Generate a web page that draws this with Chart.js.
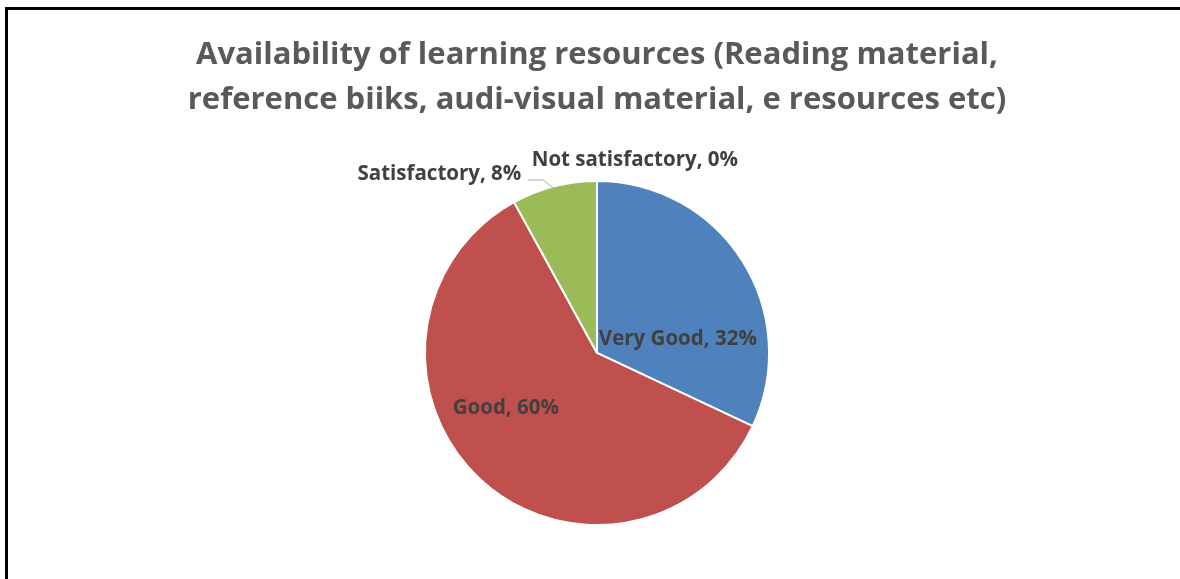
<!DOCTYPE html>
<html>
<head>
<meta charset="utf-8">
<script src="https://cdn.jsdelivr.net/npm/chart.js@4"></script>
<style>
  html, body { margin: 0; padding: 0; background: #fff; }
  body { width: 1180px; height: 579px; position: relative; overflow: hidden; }
  #frame { position: absolute; left: 5px; top: 7px; width: 1173px; height: 580px;
           border-left: 3px solid #000; border-top: 3px solid #000; }
  #chart { position: absolute; left: 0; top: 0; }
</style>
</head>
<body>
<div id="frame"></div>
<canvas id="chart" width="1180" height="579"></canvas>
<script>
// chart data
const categories = ['Very Good', 'Good', 'Satisfactory', 'Not satisfactory'];
const shares = [32, 60, 8, 0];
const sliceColors = ['#4F81BD', '#C0504D', '#9BBB59', '#8064A2'];
const titleLines = ['Availability of learning resources (Reading material,',
                    'reference biiks, audi-visual material, e resources etc)'];

// where each data label sits, as fractions of the radius from the pie centre
const labelSpots = [
    { dx: 0.47, dy: -0.08, align: 'center' },
    { dx: -0.53, dy: 0.32, align: 'center' },
    { dx: -0.44, dy: -1.04, align: 'right', leader: true },
    { dx: 0.22, dy: -1.12, align: 'center' }
];

const labelFont = 'bold 20.5px "Open Sans"';

// draws "Name, xx%" labels next to the slices
const pieLabels = {
    id: 'pieLabels',
    afterDatasetsDraw(chart) {
        const ctx = chart.ctx;
        const meta = chart.getDatasetMeta(0);
        const arc = meta.data[0];
        const cx = arc.x, cy = arc.y, r = arc.outerRadius;
        ctx.save();
        ctx.font = labelFont;
        ctx.fillStyle = '#404040';
        ctx.textBaseline = 'middle';
        categories.forEach((name, i) => {
            const spot = labelSpots[i];
            const x = cx + spot.dx * r;
            const y = cy + spot.dy * r;
            ctx.textAlign = spot.align;
            ctx.fillText(name + ', ' + shares[i] + '%', x, y);
            if (spot.leader) {
                // small grey leader line down to the green slice
                const el = meta.data[i];
                const mid = (el.startAngle + el.endAngle) / 2;
                const ex = cx + Math.cos(mid) * r * 0.98;
                const ey = cy + Math.sin(mid) * r * 0.98;
                ctx.strokeStyle = '#A6A6A6';
                ctx.lineWidth = 1;
                ctx.beginPath();
                ctx.moveTo(x + 7, y + 6);
                ctx.lineTo(x + 22, y + 6);
                ctx.lineTo(ex, ey);
                ctx.stroke();
            }
        });
        ctx.restore();
    }
};

const ctx = document.getElementById('chart');
const myChart = new Chart(ctx, {
    type: 'pie',
    data: {
        labels: categories,
        datasets: [{
            data: shares,
            backgroundColor: sliceColors,
            borderColor: '#ffffff',
            borderWidth: 2
        }]
    },
    options: {
        responsive: false,
        animation: false,
        devicePixelRatio: 1,
        layout: { padding: { left: 14, right: 0, top: 0, bottom: 53 } },
        plugins: {
            legend: { display: false },
            tooltip: { enabled: false },
            title: {
                display: true,
                text: titleLines,
                color: '#595959',
                font: { family: 'Open Sans', size: 31, weight: 'bold', lineHeight: 1.45 },
                padding: { top: 33, bottom: 57 }
            }
        }
    },
    plugins: [pieLabels]
});
</script>
</body>
</html>
